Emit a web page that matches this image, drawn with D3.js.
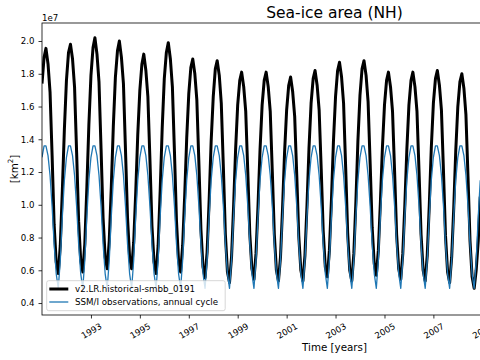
<!DOCTYPE html>
<html><head><meta charset="utf-8">
<script src="https://cdn.jsdelivr.net/npm/d3@7"></script>
<style>html,body{margin:0;padding:0;background:#fff;overflow:hidden}svg{display:block}</style>
</head><body><svg id="c" width="480" height="360"></svg>
<script>
const title = "Sea-ice area (NH)";
const xLabel = "Time [years]";
const offsetText = "1e7";
const seriesNames = ["v2.LR.historical-smbb_0191", "SSM/I observations, annual cycle"];
const seriesColors = ["#000000", "#1f77b4"];
const years = [1991,1992,1993,1994,1995,1996,1997,1998,1999,2000,2001,2002,2003,2004,2005,2006,2007,2008];
// model monthly sea-ice area, units of 1e7 km^2 (Jan..Dec per year)
const modelArea = [
  [1.74,1.90,1.955,1.86,1.69,1.30,0.88,0.65,0.58,0.75,1.09,1.46],
  [1.76,1.93,1.98,1.89,1.72,1.32,0.90,0.66,0.59,0.76,1.11,1.49],
  [1.79,1.96,2.02,1.92,1.75,1.34,0.92,0.68,0.61,0.78,1.11,1.48],
  [1.78,1.94,2.00,1.90,1.74,1.33,0.92,0.68,0.61,0.77,1.08,1.43],
  [1.70,1.86,1.92,1.82,1.66,1.27,0.87,0.65,0.58,0.75,1.09,1.47],
  [1.77,1.93,1.99,1.89,1.72,1.32,0.90,0.66,0.59,0.75,1.06,1.41],
  [1.68,1.84,1.89,1.80,1.64,1.25,0.85,0.62,0.555,0.71,1.03,1.39],
  [1.66,1.83,1.88,1.79,1.62,1.23,0.82,0.59,0.525,0.68,0.99,1.34],
  [1.61,1.76,1.81,1.72,1.57,1.20,0.82,0.61,0.545,0.70,1.00,1.34],
  [1.61,1.76,1.81,1.72,1.57,1.20,0.82,0.60,0.535,0.68,0.98,1.32],
  [1.58,1.73,1.78,1.69,1.54,1.18,0.81,0.60,0.535,0.69,1.00,1.35],
  [1.62,1.77,1.82,1.73,1.58,1.22,0.84,0.62,0.56,0.72,1.03,1.39],
  [1.66,1.82,1.87,1.78,1.62,1.23,0.83,0.60,0.535,0.70,1.02,1.39],
  [1.67,1.83,1.88,1.79,1.63,1.25,0.86,0.64,0.57,0.72,1.02,1.35],
  [1.61,1.76,1.81,1.72,1.57,1.20,0.82,0.61,0.545,0.70,1.00,1.34],
  [1.61,1.76,1.81,1.72,1.57,1.20,0.82,0.60,0.535,0.69,1.00,1.35],
  [1.62,1.77,1.82,1.73,1.58,1.20,0.81,0.59,0.525,0.68,0.98,1.33],
  [1.60,1.75,1.80,1.71,1.55,1.17,0.78,0.56,0.49,0.60,0.78,1.05]
];
// SSM/I observed annual cycle, units of 1e7 km^2 (Jan..Dec)
const obsCycle = [1.29,1.36,1.36,1.30,1.18,0.99,0.76,0.58,0.49,0.66,0.93,1.15];
const yTicks = [0.4,0.6,0.8,1.0,1.2,1.4,1.6,1.8,2.0];
const xTickYears = [1993,1995,1997,1999,2001,2003,2005,2007,2009,2011,2013];

const L = 42, T = 23, B = 315, R = 627;
const svg = d3.select("#c");
const font = "DejaVu Sans, sans-serif";

const x = d3.scaleTime().domain([new Date(1991,0,1), new Date(2014,11,1)]).range([L, R]);
const y = d3.scaleLinear().domain([0.327, 2.11]).range([B, T]);

const modelPts = [];
years.forEach((yr, i) => modelArea[i].forEach((v, m) => modelPts.push({d: new Date(yr, m, 1), v})));
const obsPts = [];
years.forEach(yr => obsCycle.forEach((v, m) => obsPts.push({d: new Date(yr, m, 1), v})));

svg.append("defs").append("clipPath").attr("id","clip")
  .append("rect").attr("x",L).attr("y",T).attr("width",R-L).attr("height",B-T);

const line = d3.line().x(p => x(p.d)).y(p => y(p.v));
const g = svg.append("g").attr("clip-path","url(#clip)");
g.append("path").datum(modelPts).attr("d", line).attr("fill","none")
  .attr("stroke", seriesColors[0]).attr("stroke-width", 3).attr("stroke-linejoin","round");
g.append("path").datum(obsPts).attr("d", line).attr("fill","none")
  .attr("stroke", seriesColors[1]).attr("stroke-width", 1.3).attr("stroke-linejoin","round");

// axes
const yAxis = svg.append("g").attr("transform",`translate(${L},0)`)
  .call(d3.axisLeft(y).tickValues(yTicks).tickFormat(d3.format(".1f")).tickSize(3.5).tickPadding(4).tickSizeOuter(0));
yAxis.select(".domain").remove();
yAxis.selectAll("line").attr("stroke","#000").attr("stroke-width",0.8);
yAxis.selectAll("text").attr("font-family",font).attr("font-size","8.6px").attr("fill","#000");

const xAxis = svg.append("g").attr("transform",`translate(0,${B})`)
  .call(d3.axisBottom(x).tickValues(xTickYears.map(v => new Date(v,0,1))).tickFormat(d3.timeFormat("%Y")).tickSize(3.5).tickSizeOuter(0));
xAxis.select(".domain").remove();
xAxis.selectAll("line").attr("stroke","#000").attr("stroke-width",0.8);
xAxis.selectAll("text").attr("font-family",font).attr("font-size","8.6px").attr("fill","#000")
  .attr("y",0).attr("dy",null).attr("dominant-baseline","central").attr("text-anchor","middle")
  .attr("transform","translate(0,16) rotate(-30)");

// spines
const sp = svg.append("g").attr("stroke","#000").attr("stroke-width",0.8).attr("fill","none");
sp.append("rect").attr("x",L).attr("y",T).attr("width",R-L).attr("height",B-T);

// texts
svg.append("text").attr("x",(L+R)/2).attr("y",17.5).attr("text-anchor","middle")
  .attr("font-family",font).attr("font-size","15.5px").text(title);
svg.append("text").attr("x",(L+R)/2).attr("y",351).attr("text-anchor","middle")
  .attr("font-family",font).attr("font-size","10.3px").text(xLabel);
svg.append("text").attr("x",L).attr("y",20.5).attr("font-family",font).attr("font-size","8.6px").text(offsetText);
const yl = svg.append("text").attr("transform",`translate(14,${(T+B)/2}) rotate(-90)`)
  .attr("text-anchor","middle").attr("dominant-baseline","central")
  .attr("font-family",font).attr("font-size","10.3px");
yl.append("tspan").text("[km");
yl.append("tspan").attr("font-size","7.2px").attr("dy","-4").text("2");
yl.append("tspan").attr("dy","4").text("]");

// legend
const lg = svg.append("g");
lg.append("rect").attr("x",46.7).attr("y",280.7).attr("width",178.5).attr("height",30).attr("rx",2)
  .attr("fill","#fff").attr("fill-opacity",0.8).attr("stroke","#cccccc").attr("stroke-width",0.8);
const rows = [289, 302];
seriesNames.forEach((n, i) => {
  lg.append("line").attr("x1",49.3).attr("x2",68.3).attr("y1",rows[i]).attr("y2",rows[i])
    .attr("stroke",seriesColors[i]).attr("stroke-width", i===0?3:1.3);
  lg.append("text").attr("x",75).attr("y",rows[i]+3).attr("font-family",font).attr("font-size","8.7px").text(n);
});
</script></body></html>
